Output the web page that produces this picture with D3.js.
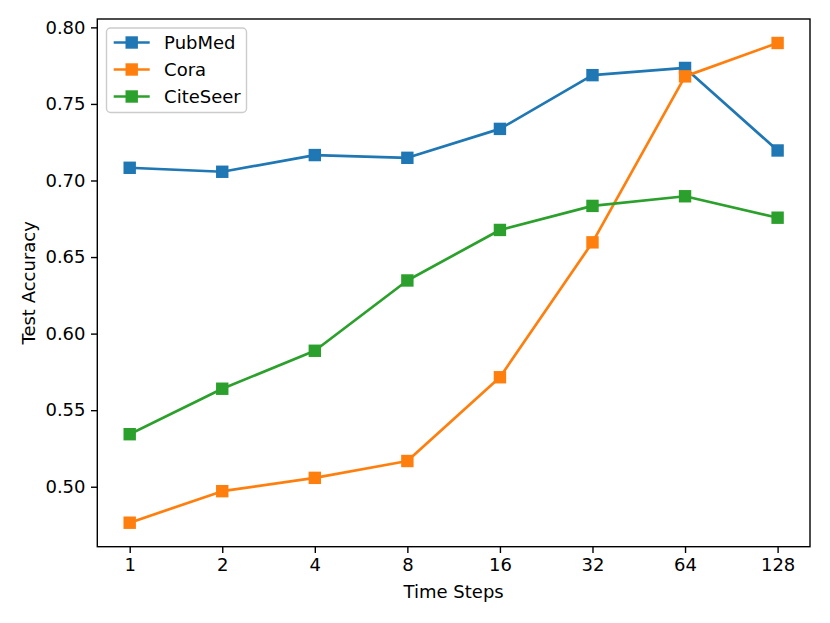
<!DOCTYPE html>
<html>
<head>
<meta charset="utf-8">
<script src="https://cdn.jsdelivr.net/npm/d3@7"></script>
<style>
  body { margin: 0; background: #fff; }
  svg { display: block; font-family: "DejaVu Sans", sans-serif; }
</style>
</head>
<body>
<svg id="chart" width="830" height="623"></svg>
<script>
// time steps on the x axis (categorical, evenly spaced)
const timeSteps = ["1", "2", "4", "8", "16", "32", "64", "128"];

const pubmed   = [0.7083, 0.7057, 0.7166, 0.7148, 0.7337, 0.7688, 0.7735, 0.7196];
const cora     = [0.4765, 0.4971, 0.5058, 0.5168, 0.5715, 0.6596, 0.7680, 0.7898];
const citeseer = [0.5343, 0.5640, 0.5888, 0.6347, 0.6677, 0.6834, 0.6897, 0.6757];

const yTicks = [0.50, 0.55, 0.60, 0.65, 0.70, 0.75, 0.80];

const series = [
    { name: "PubMed",   color: "#1f77b4", values: pubmed },
    { name: "Cora",     color: "#ff7f0e", values: cora },
    { name: "CiteSeer", color: "#2ca02c", values: citeseer }
];

const svg = d3.select("#chart");
const m = { left: 97.3, right: 810, top: 19, bottom: 546.7 };

// matplotlib style 5% margins around the data
let all = pubmed.concat(cora, citeseer);
let lo = d3.min(all), hi = d3.max(all);
let pad = (hi - lo) * 0.05;

const x = d3.scaleLinear().domain([-0.35, timeSteps.length - 1 + 0.35]).range([m.left, m.right]);
const y = d3.scaleLinear().domain([lo - pad, hi + pad]).range([m.bottom, m.top]);

const g = svg.append("g");

// lines + markers
series.forEach(function(s) {
    let line = d3.line()
        .x(function(d, i) { return x(i); })
        .y(function(d) { return y(d); });
    g.append("path")
        .datum(s.values)
        .attr("d", line)
        .attr("fill", "none")
        .attr("stroke", s.color)
        .attr("stroke-width", 2.7)
        .attr("stroke-linejoin", "round")
        .attr("stroke-linecap", "square");
    g.selectAll(null)
        .data(s.values)
        .enter().append("rect")
        .attr("x", function(d, i) { return x(i) - 5.4; })
        .attr("y", function(d) { return y(d) - 5.4; })
        .attr("width", 10.8)
        .attr("height", 10.8)
        .attr("fill", s.color)
        .attr("stroke", s.color)
        .attr("stroke-width", 1.6);
});

// axes
const xAxis = d3.axisBottom(x)
    .tickValues(d3.range(timeSteps.length))
    .tickFormat(function(i) { return timeSteps[i]; })
    .tickSize(6.3).tickPadding(5);
const yAxis = d3.axisLeft(y)
    .tickValues(yTicks)
    .tickFormat(d3.format(".2f"))
    .tickSize(6.3).tickPadding(5.5);

let gx = svg.append("g").attr("transform", "translate(0," + m.bottom + ")").call(xAxis);
let gy = svg.append("g").attr("transform", "translate(" + m.left + ",0)").call(yAxis);
[gx, gy].forEach(function(a) {
    a.select(".domain").remove();
    a.selectAll(".tick line").attr("stroke", "#000").attr("stroke-width", 1.4);
    a.selectAll(".tick text").attr("fill", "#000").style("font-size", "18px")
        .style("font-family", "DejaVu Sans");
});

// frame
svg.append("rect")
    .attr("x", m.left).attr("y", m.top)
    .attr("width", m.right - m.left).attr("height", m.bottom - m.top)
    .attr("fill", "none").attr("stroke", "#000").attr("stroke-width", 1.4);

// axis labels
svg.append("text")
    .attr("x", (m.left + m.right) / 2).attr("y", 598)
    .attr("text-anchor", "middle")
    .style("font-size", "18px")
    .text("Time Steps");
svg.append("text")
    .attr("transform", "translate(35," + (m.top + m.bottom) / 2 + ") rotate(-90)")
    .attr("text-anchor", "middle")
    .style("font-size", "18px")
    .text("Test Accuracy");

// legend
const lg = svg.append("g").attr("transform", "translate(106.5,28)");
lg.append("rect")
    .attr("width", 140).attr("height", 84.5)
    .attr("rx", 4)
    .attr("fill", "#fff").attr("fill-opacity", 0.8)
    .attr("stroke", "#cccccc").attr("stroke-width", 1.4);
series.forEach(function(s, i) {
    let cy = 14.5 + i * 27;
    lg.append("line")
        .attr("x1", 7.2).attr("x2", 43.2)
        .attr("y1", cy).attr("y2", cy)
        .attr("stroke", s.color).attr("stroke-width", 2.7);
    lg.append("rect")
        .attr("x", 25.2 - 5.4).attr("y", cy - 5.4)
        .attr("width", 10.8).attr("height", 10.8)
        .attr("fill", s.color)
        .attr("stroke", s.color)
        .attr("stroke-width", 1.6);
    lg.append("text")
        .attr("x", 57.6).attr("y", cy)
        .attr("dy", "0.35em")
        .style("font-size", "18px")
        .text(s.name);
});
</script>
</body>
</html>
